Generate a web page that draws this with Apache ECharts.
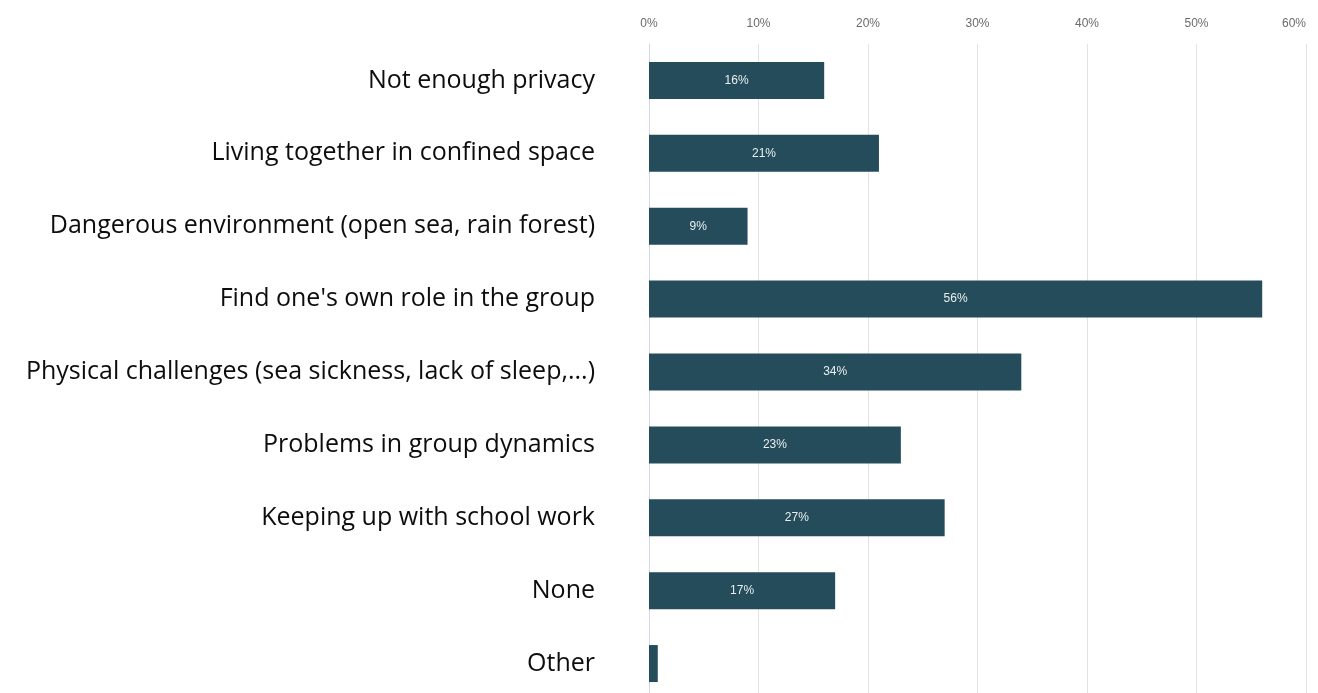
<!DOCTYPE html>
<html>
<head>
<meta charset="utf-8">
<script src="https://cdn.jsdelivr.net/npm/echarts@6/dist/echarts.min.js"></script>
<style>
  html, body { margin: 0; padding: 0; background: #ffffff; overflow: hidden; }
  /* the plot area runs a few pixels past the bottom of the window */
  #chart { width: 1318px; height: 700px; }
</style>
</head>
<body>
<div id="chart"></div>
<script>
// Survey: challenges experienced during the trip (share of respondents, %)
const categories = [
  "Not enough privacy",
  "Living together in confined space",
  "Dangerous environment (open sea, rain forest)",
  "Find one's own role in the group",
  "Physical challenges (sea sickness, lack of sleep,...)",
  "Problems in group dynamics",
  "Keeping up with school work",
  "None",
  "Other"
];
const shares = [16, 21, 9, 56, 34, 23, 27, 17, 0.8];
const tickLabels = ["0%", "10%", "20%", "30%", "40%", "50%", "60%"];

const chart = echarts.init(document.getElementById('chart'), null, { renderer: 'canvas' });

chart.setOption({
  animation: false,
  backgroundColor: '#ffffff',
  grid: { left: 649, right: 12, top: 44, bottom: 0, containLabel: false },
  xAxis: {
    type: 'value',
    position: 'top',
    min: 0,
    max: 60,
    interval: 10,
    axisLine: { show: false },
    axisTick: { show: false },
    axisLabel: {
      color: '#6b6b6b',
      fontFamily: 'Arial, "Liberation Sans", sans-serif',
      fontSize: 12,
      margin: 14,
      alignMaxLabel: 'right',
      formatter: (v) => tickLabels[Math.round(v / 10)] || ''
    },
    splitLine: { show: true, lineStyle: { color: '#e3e3e3', width: 1 } }
  },
  yAxis: {
    type: 'category',
    data: categories,
    inverse: true,
    axisLine: { show: true, lineStyle: { color: '#d3d7ef', width: 1 } },
    axisTick: { show: false },
    axisLabel: {
      color: '#0d0d0d',
      fontFamily: '"Open Sans", sans-serif',
      fontSize: 25,
      margin: 54
    }
  },
  series: [{
    type: 'bar',
    data: shares.map((v) => ({
      value: v,
      label: { show: v >= 5 }
    })),
    barWidth: 37,
    itemStyle: { color: '#244c5a' },
    label: {
      show: true,
      position: 'inside',
      color: '#e9eef0',
      fontFamily: 'Arial, "Liberation Sans", sans-serif',
      fontSize: 12,
      formatter: (p) => Math.round(p.value) + '%'
    }
  }]
});
</script>
</body>
</html>
